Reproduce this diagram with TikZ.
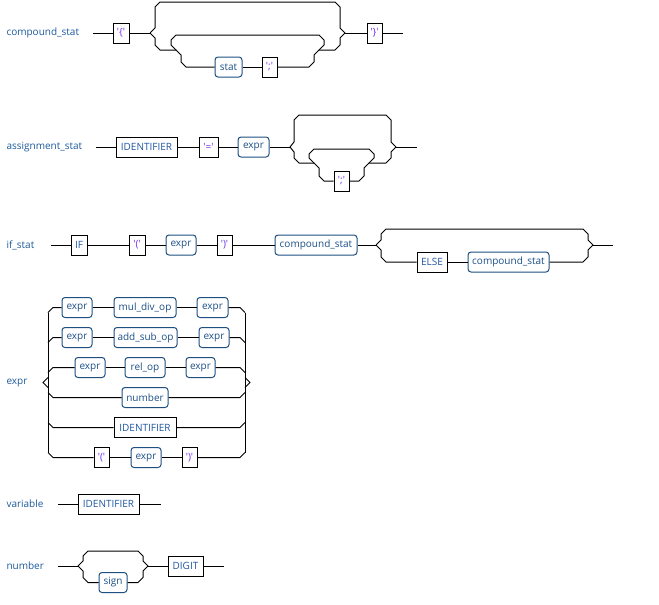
\documentclass[tikz,border=0pt]{standalone}
\usepackage{fontspec}
\setmainfont{Open Sans}
\definecolor{lblc}{HTML}{1C5A9C}
\definecolor{ntc}{HTML}{1D4F80}
\definecolor{ntt}{HTML}{1B4F87}
\definecolor{kwc}{HTML}{1F56A0}
\definecolor{litc}{HTML}{7030F0}
\newcommand\rrfont{\fontsize{10}{12}\selectfont}
\newcommand\q[1]{\textquotesingle#1\textquotesingle}
\begin{document}
\begin{tikzpicture}[x=1pt,y=-1pt,line width=1pt,
  lab/.style={anchor=west,text=lblc,font=\rrfont,inner sep=0pt},
  tbox/.style={draw=black,rectangle,minimum height=20pt,inner sep=0pt,text=kwc,font=\rrfont},
  lbox/.style={tbox,text=litc},
  nbox/.style={draw=ntc,rectangle,rounded corners=3pt,minimum height=20pt,inner sep=0pt,text=ntt,font=\rrfont},
  rail/.style={draw=black,line width=1pt}]
\useasboundingbox (0,0) rectangle (659,605);

% ---------- compound_stat ----------
\node[lab] (L1) at (6,33) {compound\_stat};
\coordinate (s1) at (93,33);
\node[lbox,minimum width=16pt] (lb1) at (121,33) {\q{\{}};
\coordinate (j1) at (150,33);
\node[nbox,minimum width=27pt] (stat1) at (228.5,67) {stat};
\node[lbox,minimum width=15pt] (semi1) at (269.5,67) {\q{;}};
\coordinate (j2) at (345,33);
\node[lbox,minimum width=15pt] (rb1) at (374.5,33) {\q{\}}};
\coordinate (e1) at (403,33);
\coordinate (c1a) at (176,50);
\coordinate (c1b) at (319,50);
\draw[rail] (s1) -- (lb1.west);
\draw[rail] (lb1.east) -- (j1);
\draw[rail] (j1) -- (155,28) -- (155,7) -- (160,2) -- (335,2) -- (340,7) -- (340,28) -- (j2);
\draw[rail] (j1) -- (155,38) -- (155,45) -- (160,50) -- (c1a) -- (181,55) -- (181,62) -- (186,67) -- (stat1.west);
\draw[rail] (stat1.east) -- (semi1.west);
\draw[rail] (semi1.east) -- (309,67) -- (314,62) -- (314,55) -- (c1b) -- (335,50) -- (340,45) -- (340,38) -- (j2);
\draw[rail] (c1a) -- (171,45) -- (171,40) -- (176,35) -- (319,35) -- (324,40) -- (324,45) -- (c1b);
\draw[rail] (j2) -- (rb1.west);
\draw[rail] (rb1.east) -- (e1);

% ---------- assignment_stat ----------
\node[lab] (L2) at (6,147) {assignment\_stat};
\coordinate (s2) at (96,147);
\node[tbox,minimum width=61pt] (id2) at (146.5,147) {IDENTIFIER};
\node[lbox,minimum width=19pt] (eq2) at (208.5,147) {\q{=}};
\node[nbox,minimum width=31pt] (ex2) at (253.5,147) {expr};
\coordinate (j3) at (290,147);
\coordinate (j4) at (396,147);
\coordinate (e2) at (417,147);
\node[lbox,minimum width=15pt] (semi2) at (341.5,181) {\q{;}};
\coordinate (c2a) at (314,163);
\coordinate (c2b) at (369,163);
\draw[rail] (s2) -- (id2.west);
\draw[rail] (id2.east) -- (eq2.west);
\draw[rail] (eq2.east) -- (ex2.west);
\draw[rail] (ex2.east) -- (j3);
\draw[rail] (j3) -- (294,142) -- (294,120) -- (299,115) -- (386,115) -- (391,120) -- (391,142) -- (j4);
\draw[rail] (j3) -- (294,152) -- (294,158) -- (299,163) -- (c2a) -- (319,168) -- (319,176) -- (324,181) -- (semi2.west);
\draw[rail] (semi2.east) -- (359,181) -- (364,176) -- (364,168) -- (c2b) -- (386,163) -- (391,158) -- (391,152) -- (j4);
\draw[rail] (c2a) -- (309,158) -- (309,154) -- (314,149) -- (369,149) -- (374,154) -- (374,158) -- (c2b);
\draw[rail] (j4) -- (e2);

% ---------- if_stat ----------
\node[lab] (L3) at (6,245) {if\_stat};
\coordinate (s3) at (51,245);
\node[tbox,minimum width=16pt] (if3) at (79,245) {IF};
\node[lbox,minimum width=16pt] (lp3) at (137,245) {\q{(}};
\node[nbox,minimum width=30pt] (ex3) at (181,245) {expr};
\node[lbox,minimum width=15pt] (rp3) at (224.5,245) {\q{)}};
\node[nbox,minimum width=82pt] (cs3) at (316,245) {compound\_stat};
\coordinate (j5) at (376,245);
\coordinate (j6) at (593,245);
\coordinate (e3) at (613,245);
\node[tbox,minimum width=30pt] (else3) at (432,262) {ELSE};
\node[nbox,minimum width=81pt] (cs4) at (508.5,262) {compound\_stat};
\draw[rail] (s3) -- (if3.west);
\draw[rail] (if3.east) -- (lp3.west);
\draw[rail] (lp3.east) -- (ex3.west);
\draw[rail] (ex3.east) -- (rp3.west);
\draw[rail] (rp3.east) -- (cs3.west);
\draw[rail] (cs3.east) -- (j5);
\draw[rail] (j5) -- (381,240) -- (381,234) -- (386,229) -- (583,229) -- (588,234) -- (588,240) -- (j6);
\draw[rail] (j5) -- (381,250) -- (381,257) -- (386,262) -- (else3.west);
\draw[rail] (else3.east) -- (cs4.west);
\draw[rail] (cs4.east) -- (583,262) -- (588,257) -- (588,250) -- (j6);
\draw[rail] (j6) -- (e3);

% ---------- expr ----------
\node[lab] (L4) at (6,383) {expr};
\coordinate (pL) at (43,382.5);
\coordinate (pR) at (250,382.5);
% row 1
\node[nbox,minimum width=30pt] (a1) at (77,307.5) {expr};
\node[nbox,minimum width=62pt] (b1) at (145,307.5) {mul\_div\_op};
\node[nbox,minimum width=31pt] (c1) at (212.5,307.5) {expr};
% row 2
\node[nbox,minimum width=30pt] (a2) at (77,337.5) {expr};
\node[nbox,minimum width=63pt] (b2) at (145.5,337.5) {add\_sub\_op};
\node[nbox,minimum width=30pt] (c2) at (214,337.5) {expr};
% row 3
\node[nbox,minimum width=30pt] (a3) at (90,367.5) {expr};
\node[nbox,minimum width=40pt] (b3) at (145,367.5) {rel\_op};
\node[nbox,minimum width=29pt] (c3) at (200.5,367.5) {expr};
% row 4
\node[nbox,minimum width=46pt] (b4) at (145,397.5) {number};
% row 5
\node[tbox,minimum width=62pt] (b5) at (145,427.5) {IDENTIFIER};
% row 6
\node[lbox,minimum width=15pt] (a6) at (101.5,457.5) {\q{(}};
\node[nbox,minimum width=30pt] (b6) at (146,457.5) {expr};
\node[lbox,minimum width=15pt] (c6) at (189.5,457.5) {\q{)}};
% rails
\draw[rail] (48,312.5) -- (48,452.5);
\draw[rail] (245,312.5) -- (245,452.5);
\draw[rail] (48,377.5) -- (pL) -- (48,387.5);
\draw[rail] (245,377.5) -- (pR) -- (245,387.5);
\draw[rail] (48,312.5) -- (53,307.5) -- (a1.west);
\draw[rail] (a1.east) -- (b1.west);
\draw[rail] (b1.east) -- (c1.west);
\draw[rail] (c1.east) -- (240,307.5) -- (245,312.5);
\draw[rail] (48,342.5) -- (53,337.5) -- (a2.west);
\draw[rail] (a2.east) -- (b2.west);
\draw[rail] (b2.east) -- (c2.west);
\draw[rail] (c2.east) -- (240,337.5) -- (245,342.5);
\draw[rail] (48,372.5) -- (53,367.5) -- (a3.west);
\draw[rail] (a3.east) -- (b3.west);
\draw[rail] (b3.east) -- (c3.west);
\draw[rail] (c3.east) -- (240,367.5) -- (245,372.5);
\draw[rail] (48,392.5) -- (53,397.5) -- (b4.west);
\draw[rail] (b4.east) -- (240,397.5) -- (245,392.5);
\draw[rail] (48,422.5) -- (53,427.5) -- (b5.west);
\draw[rail] (b5.east) -- (240,427.5) -- (245,422.5);
\draw[rail] (48,452.5) -- (53,457.5) -- (a6.west);
\draw[rail] (a6.east) -- (b6.west);
\draw[rail] (b6.east) -- (c6.west);
\draw[rail] (c6.east) -- (240,457.5) -- (245,452.5);

% ---------- variable ----------
\node[lab] (L5) at (6,504) {variable};
\coordinate (s5) at (58,504);
\node[tbox,minimum width=61pt] (id5) at (108.5,504) {IDENTIFIER};
\coordinate (e5) at (161,504);
\draw[rail] (s5) -- (id5.west);
\draw[rail] (id5.east) -- (e5);

% ---------- number ----------
\node[lab] (L6) at (6,566) {number};
\coordinate (s6) at (58,566);
\coordinate (j7) at (78,566);
\coordinate (j8) at (148,566);
\node[nbox,minimum width=28pt] (sign6) at (113,582.5) {sign};
\node[tbox,minimum width=35pt] (dig6) at (185.5,566) {DIGIT};
\coordinate (e6) at (224,566);
\draw[rail] (s6) -- (j7);
\draw[rail] (j7) -- (83,561) -- (83,556) -- (88,551) -- (138,551) -- (143,556) -- (143,561) -- (j8);
\draw[rail] (j7) -- (83,571) -- (83,577.5) -- (88,582.5) -- (sign6.west);
\draw[rail] (sign6.east) -- (138,582.5) -- (143,577.5) -- (143,571) -- (j8);
\draw[rail] (j8) -- (dig6.west);
\draw[rail] (dig6.east) -- (e6);
\end{tikzpicture}
\end{document}
